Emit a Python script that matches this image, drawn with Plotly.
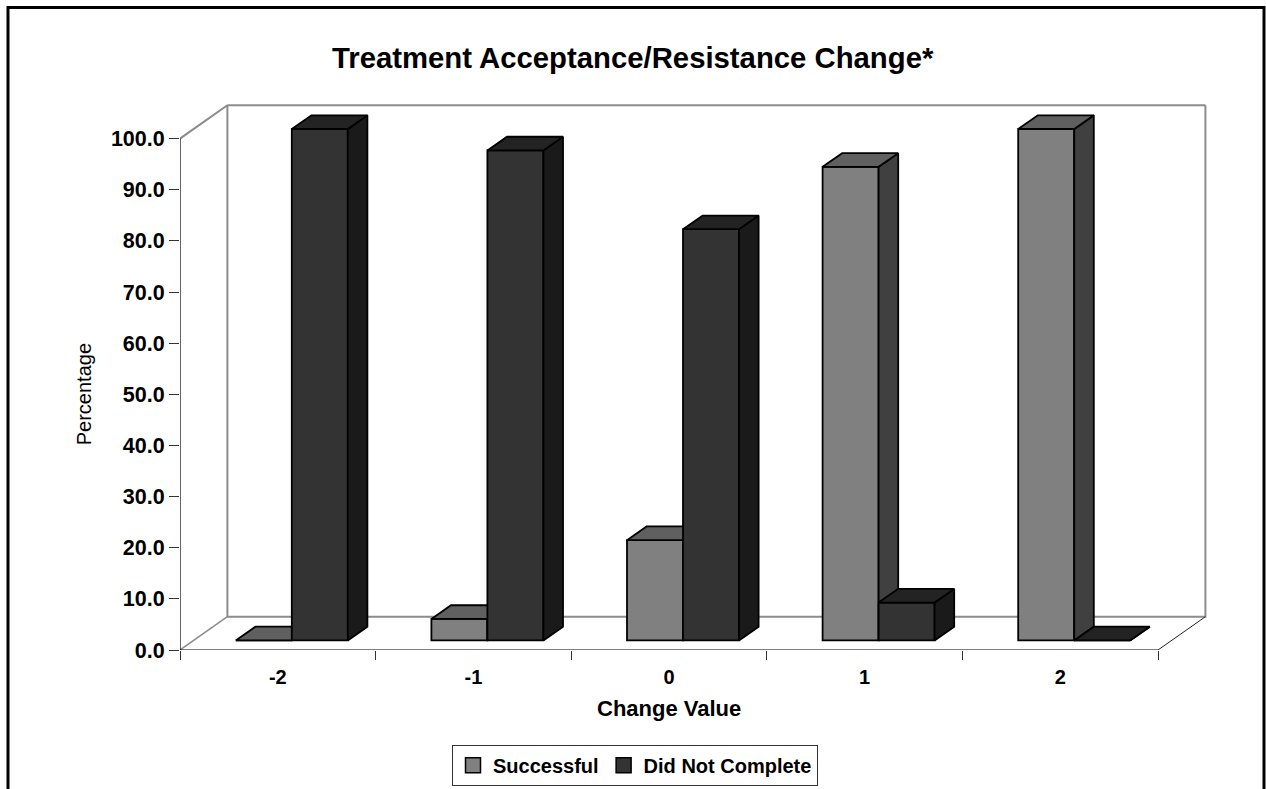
import plotly.graph_objects as go

categories = ["-2", "-1", "0", "1", "2"]
successful = [0, 4.2, 19.6, 92.6, 100]
did_not_complete = [100, 95.8, 80.4, 7.4, 0]
y_ticks = [0, 10, 20, 30, 40, 50, 60, 70, 80, 90, 100]

FONT = "Liberation Sans"
PX_X, PX_Y = 195.6, 5.117
L, R, T, B = 180, 1208, 104, 650.3
W, H = 1266, 789
X_MAX = (R - L) / PX_X
Y_MAX = (B - T) / PX_Y
WALL_DX, WALL_DY = 47.4 / PX_X, 33.3 / PX_Y
LIFT_X, LIFT_Y = 14 / PX_X, 9.6 / PX_Y
DX, DY = 19.6 / PX_X, 13.7 / PX_Y
BAR_W = 56 / PX_X
N = len(categories)
centres = [i + 0.5 for i in range(N)]
boundaries = list(range(N + 1))


def faces(values, offset):
    top_x, top_y, side_x, side_y, mid = [], [], [], [], []
    for c, v in zip(centres, values):
        m = c + LIFT_X + offset * BAR_W
        mid.append(m)
        l, r = m - BAR_W / 2, m + BAR_W / 2
        t = v + LIFT_Y
        top_x += [l, r, r + DX, l + DX, l, None]
        top_y += [t, t, t + DY, t + DY, t, None]
        side_x += [r, r + DX, r + DX, r, r, None]
        side_y += [LIFT_Y, LIFT_Y + DY, t + DY, t, LIFT_Y, None]
    return mid, top_x, top_y, side_x, side_y


def series(name, values, offset, front, top, side, axes):
    xa, ya = axes
    mid, tx, ty, sx, sy = faces(values, offset)
    outline = dict(color="#000000", width=1.8)
    return [
        go.Bar(x=mid, y=values, base=LIFT_Y, width=BAR_W, xaxis=xa, yaxis=ya, showlegend=False,
               marker=dict(color=front, line=outline), hoverinfo="skip", name=name),
        go.Scatter(x=sx, y=sy, mode="lines", fill="toself", fillcolor=side, line=outline,
                   xaxis=xa, yaxis=ya, showlegend=False, hoverinfo="skip"),
        go.Scatter(x=tx, y=ty, mode="lines", fill="toself", fillcolor=top, line=outline,
                   xaxis=xa, yaxis=ya, showlegend=False, hoverinfo="skip"),
    ]


def line(xs, ys, color, width):
    return go.Scatter(x=xs, y=ys, mode="lines", line=dict(color=color, width=width), cliponaxis=False,
                      xaxis="x", yaxis="y", showlegend=False, hoverinfo="skip")


fig = go.Figure()
# back walls and floor
fig.add_trace(line([0, WALL_DX, WALL_DX, N + WALL_DX, N + WALL_DX],
                   [100, 100 + WALL_DY, WALL_DY, WALL_DY, 100 + WALL_DY], "#8c8c8c", 2))
fig.add_trace(line([WALL_DX, N + WALL_DX], [100 + WALL_DY, 100 + WALL_DY], "#8c8c8c", 2))
fig.add_trace(line([0, WALL_DX], [0, WALL_DY], "#8c8c8c", 1.5))
fig.add_trace(line([N, N + WALL_DX], [0, WALL_DY], "#222222", 1))
# axis lines
fig.add_trace(line([0, 0], [0, 100], "#000000", 1.2))
fig.add_trace(line([0, N], [0, 0], "#000000", 1.2))

fig.add_traces(series("Successful", successful, -0.5, "#808080", "#606060", "#404040", ("x2", "y2")))
fig.add_traces(series("Did Not Complete", did_not_complete, 0.5, "#333333", "#232323", "#1a1a1a", ("x3", "y3")))

# legend entries
for name, colour in [("Successful", "#808080"), ("Did Not Complete", "#333333")]:
    fig.add_trace(go.Scatter(x=[None], y=[None], mode="markers", name=name, xaxis="x", yaxis="y",
                             marker=dict(symbol="square", size=15, color=colour,
                                         line=dict(color="#000000", width=1.5))))

hidden_x = dict(range=[0, X_MAX], overlaying="x", showgrid=False, zeroline=False, showline=False,
                fixedrange=True)
hidden_y = dict(range=[0, Y_MAX], overlaying="y", visible=False, fixedrange=True)

px_x = lambda p: (p - L) / (R - L)
px_y = lambda p: 1 - (p - T) / (B - T)
frame = (f"M {px_x(8)} {px_y(800)} L {px_x(8)} {px_y(7.5)} "
         f"L {px_x(1264)} {px_y(7.5)} L {px_x(1264)} {px_y(800)}")

fig.update_layout(
    width=W, height=H, autosize=False,
    margin=dict(l=L, r=W - R, t=T, b=H - B, pad=0, autoexpand=False),
    paper_bgcolor="#ffffff", plot_bgcolor="#ffffff",
    barmode="overlay",
    font=dict(family=FONT, color="#000000"),
    xaxis=dict(range=[0, X_MAX], tickvals=centres, ticktext=categories, ticks="outside", ticklen=9,
               tickcolor="rgba(0,0,0,0)", showgrid=False, zeroline=False, showline=False,
               tickfont=dict(family=FONT, size=20, color="#000000", weight="bold"), fixedrange=True),
    yaxis=dict(range=[0, Y_MAX], tickvals=y_ticks, tickformat=".1f", ticks="outside", ticklen=10,
               tickcolor="#333333", tickwidth=1, showgrid=False, zeroline=False, showline=False,
               tickfont=dict(family=FONT, size=21.5, color="#000000", weight="bold"), fixedrange=True),
    xaxis2=dict(hidden_x, anchor="y2", visible=True, showticklabels=False, tickvals=boundaries,
                ticks="outside", ticklen=9, tickcolor="#333333", tickwidth=1),
    yaxis2=dict(hidden_y, anchor="x2"),
    xaxis3=dict(hidden_x, anchor="y3", visible=False),
    yaxis3=dict(hidden_y, anchor="x3"),
    legend=dict(orientation="h", xanchor="left", yanchor="top", x=px_x(452), y=px_y(745),
                bgcolor="#ffffff", bordercolor="#333333", borderwidth=1,
                font=dict(family=FONT, size=20, color="#000000", weight="bold"),
                itemwidth=30, itemsizing="trace", tracegroupgap=0),
    annotations=[
        dict(text="<b>Treatment Acceptance/Resistance Change*</b>", xref="paper", yref="paper", x=px_x(633), y=px_y(57),
             xanchor="center", yanchor="middle", showarrow=False,
             font=dict(family=FONT, size=29.3, color="#000000")),
        dict(text="<b>Change Value</b>", xref="x", yref="paper", x=N / 2, y=px_y(708.5),
             xanchor="center", yanchor="middle", showarrow=False,
             font=dict(family=FONT, size=22, color="#000000")),
        dict(text="Percentage", xref="paper", yref="y", x=px_x(84), y=50, textangle=-90,
             xanchor="center", yanchor="middle", showarrow=False,
             font=dict(family=FONT, size=20, color="#000000")),
    ],
    shapes=[dict(type="path", path=frame, xref="paper", yref="paper",
                 line=dict(color="#000000", width=3), layer="above")],
)

fig.write_html("out.html", config=dict(displayModeBar=False),
               post_script="document.body.style.margin='0';document.documentElement.style.overflow='hidden';")
